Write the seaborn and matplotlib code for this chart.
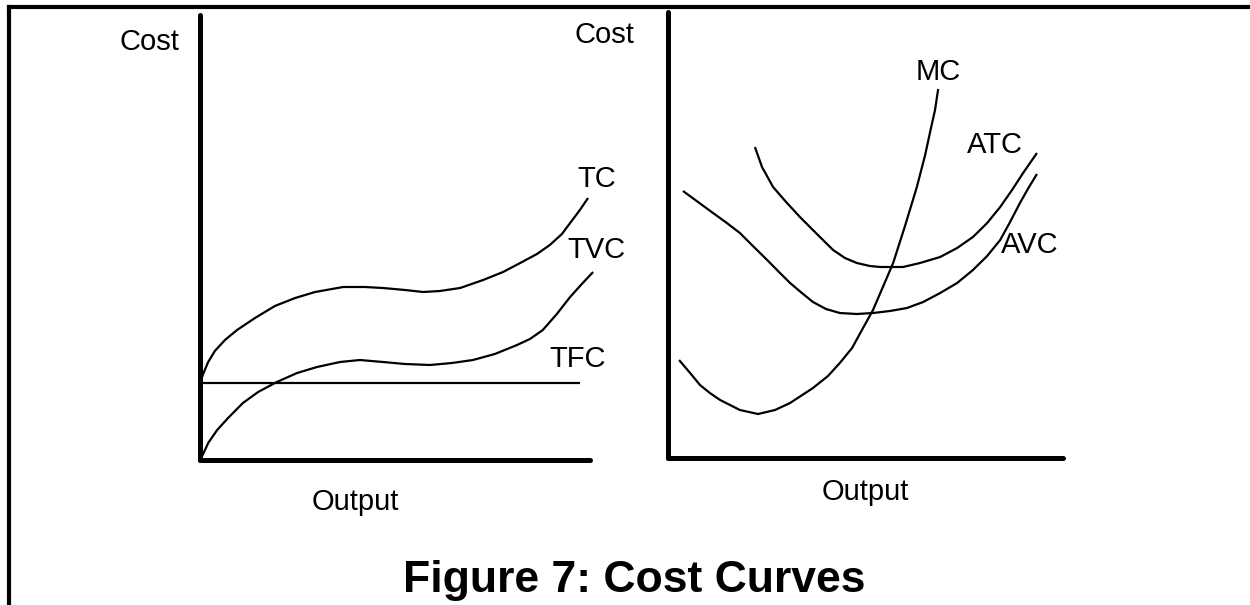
import matplotlib
matplotlib.use("Agg")
import matplotlib.pyplot as plt
from matplotlib.lines import Line2D
import seaborn as sns
import pandas as pd

sns.set_theme(style="white")
plt.rcParams['font.family'] = ['Liberation Sans', 'DejaVu Sans']

# ---------------- data ----------------
# Left panel: total cost curves
tc_x = [0, 0.08, 0.21, 0.38, 0.64, 0.95, 1.41, 1.92, 2.44, 2.95, 3.67, 4.23, 4.69,
        5.26, 5.72, 6.15, 6.67, 7.26, 7.77, 8.21, 8.64, 8.97, 9.28, 9.49, 9.74, 9.95]
tc_y = [7.7, 8.6, 9.8, 10.9, 12.0, 13.0, 14.2, 15.4, 16.2, 16.8, 17.3, 17.3, 17.2,
        17.0, 16.8, 16.9, 17.2, 18.0, 18.8, 19.7, 20.6, 21.5, 22.6, 23.7, 25.0, 26.2]
tvc_x = [0, 0.08, 0.21, 0.44, 0.72, 1.10, 1.49, 1.97, 2.49, 3.0, 3.59, 4.10, 4.69,
         5.26, 5.90, 6.46, 7.0, 7.56, 8.13, 8.46, 8.79, 9.15, 9.49, 9.79, 10.08]
tvc_y = [0, 0.6, 1.7, 3.0, 4.2, 5.7, 6.8, 7.8, 8.7, 9.3, 9.8, 10.0, 9.8,
         9.6, 9.5, 9.7, 10.0, 10.6, 11.5, 12.1, 13.0, 14.6, 16.3, 17.6, 18.8]
tfc_x = [0, 9.74]
tfc_y = [7.7, 7.7]

# Right panel: marginal / average cost curves
mc_x = [0.28, 0.56, 0.81, 1.06, 1.32, 1.82, 2.28, 2.71, 3.09, 3.67, 4.05, 4.35,
        4.66, 4.91, 5.19, 5.44, 5.70, 6.0, 6.30, 6.51, 6.63, 6.76, 6.84]
mc_y = [9.8, 8.5, 7.3, 6.5, 5.8, 4.8, 4.4, 4.8, 5.5, 7.0, 8.2, 9.5,
        11.0, 12.8, 14.8, 17.1, 19.5, 23.2, 27.1, 30.3, 32.5, 34.8, 36.9]
atc_x = [2.20, 2.38, 2.66, 2.99, 3.34, 3.77, 4.18, 4.48, 4.78, 5.11, 5.37, 5.67,
         5.95, 6.38, 6.89, 7.32, 7.72, 8.08, 8.41, 8.71, 8.99, 9.34]
atc_y = [31.1, 29.1, 27.1, 25.6, 24.1, 22.4, 20.8, 20.0, 19.5, 19.2, 19.1, 19.1,
         19.1, 19.5, 20.1, 21.0, 22.1, 23.5, 25.1, 26.8, 28.5, 30.5]
avc_x = [0.38, 0.76, 1.14, 1.49, 1.82, 2.15, 2.51, 2.81, 3.09, 3.39, 3.67, 4.0,
         4.35, 4.78, 5.19, 5.62, 6.05, 6.46, 6.89, 7.32, 7.72, 8.08, 8.41, 8.66,
         8.91, 9.11, 9.34]
avc_y = [26.7, 25.6, 24.5, 23.5, 22.5, 21.2, 19.8, 18.6, 17.5, 16.5, 15.6, 14.9,
         14.5, 14.4, 14.5, 14.7, 15.0, 15.6, 16.5, 17.5, 18.8, 20.2, 21.8, 23.6,
         25.5, 26.9, 28.4]

left_names = ["TC", "TVC", "TFC"]
right_names = ["MC", "ATC", "AVC"]
title_text = "Figure 7: Cost Curves"
y_label = "Cost"
x_label = "Output"

# ---------------- layout helpers ----------------
W, H = 1250, 605
fig = plt.figure(figsize=(W / 100, H / 100), dpi=100)
fig.patch.set_facecolor("white")


def fx(px):
    return px / W


def fy(py):
    return 1 - py / H


def make_axes(x0, x1, ytop, ybot):
    ax = fig.add_axes([fx(x0), fy(ybot), fx(x1) - fx(x0), fy(ytop) - fy(ybot)])
    ax.set_facecolor("none")
    for s in ["top", "right"]:
        ax.spines[s].set_visible(False)
    for s in ["left", "bottom"]:
        ax.spines[s].set_linewidth(3.6)
        ax.spines[s].set_color("black")
        ax.spines[s].set_capstyle("round")
    ax.set_xticks([])
    ax.set_yticks([])
    return ax


def build(xs, ys, names):
    frames = []
    for x, y, n in zip(xs, ys, names):
        frames.append(pd.DataFrame({"x": x, "y": y, "curve": n}))
    return pd.concat(frames, ignore_index=True)


def draw(ax, df, xmax, ymax):
    sns.lineplot(data=df, x="x", y="y", hue="curve", units="curve", estimator=None,
                 sort=False, palette=["black"] * 3, linewidth=1.6, legend=False, ax=ax)
    ax.set_xlim(0, xmax)
    ax.set_ylim(0, ymax)
    ax.set_xlabel("")
    ax.set_ylabel("")
    ax.set_xticks([])
    ax.set_yticks([])
    for l in ax.lines:
        l.set_clip_on(False)
        l.set_solid_joinstyle("round")
        l.set_solid_capstyle("butt")


# Left panel
axL = make_axes(200, 590, 15, 460)
draw(axL, build([tc_x, tvc_x, tfc_x], [tc_y, tvc_y, tfc_y], left_names), 10, 44.5)

# Right panel
axR = make_axes(668, 1063, 12, 458)
draw(axR, build([mc_x, atc_x, avc_x], [mc_y, atc_y, avc_y], right_names), 10, 44.6)

# ---------------- texts ----------------
fs = 21


def label(px, py, s, size=fs, weight="normal", ha="left"):
    fig.text(fx(px), fy(py), s, fontsize=size, fontweight=weight, ha=ha,
             va="baseline", color="black")


label(119, 50, y_label)
label(574, 43, y_label)
label(577, 187, left_names[0])
label(567, 258, left_names[1])
label(549, 367, left_names[2])
label(916, 80, right_names[0])
label(967, 153, right_names[1])
label(1001, 253, right_names[2])
label(312, 510, x_label)
label(822, 500, x_label)
label(634, 592, title_text, size=32, weight="bold", ha="center")

# ---------------- frame ----------------
fig.add_artist(Line2D([fx(9), fx(9)], [fy(7), 0], color="black", linewidth=3.0,
                      transform=fig.transFigure, solid_capstyle="projecting"))
fig.add_artist(Line2D([fx(9), 1], [fy(7), fy(7)], color="black", linewidth=3.0,
                      transform=fig.transFigure, solid_capstyle="projecting"))

fig.savefig("out.png", dpi=100, facecolor="white")
